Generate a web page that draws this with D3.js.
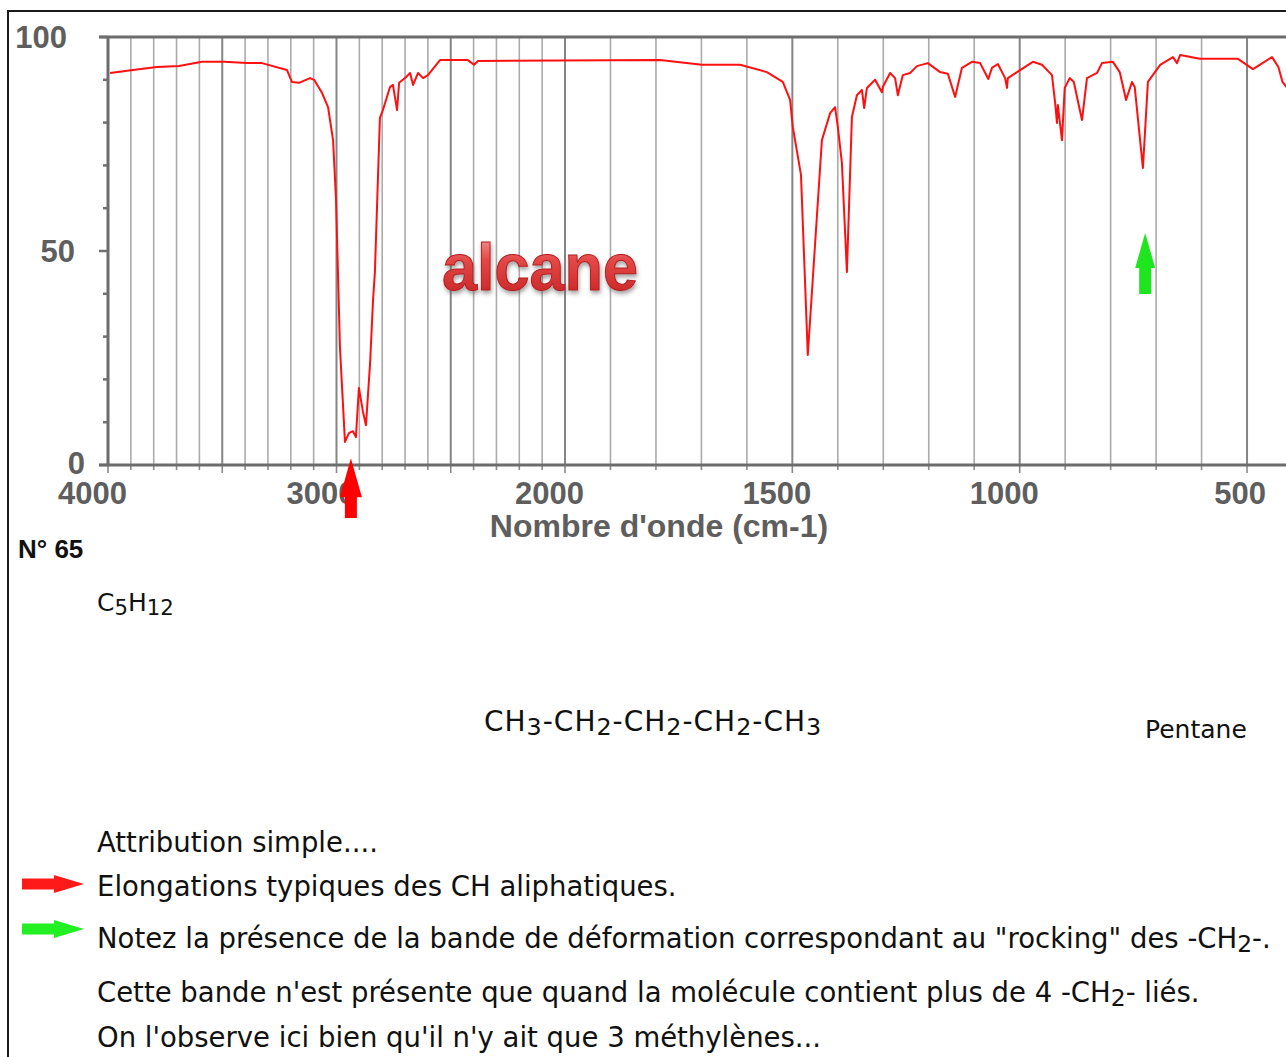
<!DOCTYPE html>
<html>
<head>
<meta charset="utf-8">
<script src="https://cdn.jsdelivr.net/npm/d3@7"></script>
<style>
  body { margin: 0; background: #fff; }
  svg { display: block; }
  .tick-label { font-family: "Liberation Sans", Arial, sans-serif; font-weight: bold; font-size: 31px; fill: #5e5e5e; }
  .note { font-family: "DejaVu Sans", sans-serif; font-size: 27.5px; fill: #111; }
  .formula { font-family: "DejaVu Sans", sans-serif; font-size: 25px; fill: #111; }
  .structure { font-family: "DejaVu Sans", sans-serif; font-size: 28px; letter-spacing: 1px; fill: #111; }
</style>
</head>
<body>
<div id="chart"></div>
<script>
// IR spectrum of pentane: wavenumber (cm-1) and transmittance (%)
const wavenumbers = [3991, 3891, 3786, 3689, 3589, 3492, 3392, 3326, 3217, 3195, 3164, 3116, 3098, 3063, 3037, 3015, 3002, 2985,
  2963, 2945, 2928, 2915, 2902, 2884, 2871, 2853, 2840, 2832, 2810, 2797, 2766, 2753, 2735, 2726, 2700, 2678, 2665, 2643, 2621,
  2600, 2547, 2425, 2398, 2381, 1791, 1699, 1615, 1556, 1521, 1505, 1499, 1481, 1466, 1435, 1417, 1406, 1400, 1391, 1380, 1369,
  1358, 1347, 1342, 1336, 1318, 1303, 1301, 1285, 1274, 1268, 1257, 1241, 1226, 1202, 1175, 1158, 1142, 1127, 1105, 1087, 1069,
  1061, 1048, 1032, 1028, 1026, 971, 951, 929, 922, 918, 916, 907, 901, 890, 881, 863, 852, 830, 819, 795, 780, 766, 753, 747,
  729, 718, 691, 663, 654, 647, 604, 520, 487, 445, 431, 422, 413, 405];
const transmittance = [91.6, 92.3, 93.0, 93.2, 94.2, 94.2, 93.9, 93.9, 92.3, 89.5, 89.3, 90.4, 90.0, 86.9, 83.6, 75.9, 61.9, 27.6,
  5.4, 7.5, 7.9, 6.5, 18.0, 12.4, 9.3, 23.8, 38.6, 45.0, 81.1, 82.9, 88.3, 88.8, 82.9, 89.3, 90.4, 91.6, 88.8, 91.6, 90.4,
  91.1, 94.6, 94.6, 93.5, 94.4, 94.6, 93.5, 93.5, 91.8, 89.5, 85.3, 79.0, 67.8, 25.7, 75.9, 82.2, 83.6, 79.0, 70.6, 45.1, 81.3,
  86.4, 87.6, 83.4, 88.1, 90.0, 87.1, 88.3, 91.6, 90.4, 86.4, 91.1, 91.6, 93.2, 93.9, 91.8, 91.4, 86.0, 92.8, 94.2, 93.9, 90.2,
  92.8, 93.7, 90.4, 88.1, 90.4, 94.2, 93.5, 91.1, 84.6, 79.9, 84.1, 75.9, 88.1, 90.4, 89.5, 80.6, 90.4, 91.6, 93.9, 94.2, 91.8,
  85.3, 89.5, 88.3, 69.4, 89.5, 93.5, 95.3, 93.9, 95.8, 94.9, 94.9, 92.5, 95.3, 93.0, 89.5, 88.3, 87.0];

const xTickLabels = [4000, 3000, 2000, 1500, 1000, 500];
const yTickLabels = [0, 50, 100];
const gridWavenumbers = d3.range(3900, 400, -100);
const xTitle = "Nombre d'onde (cm-1)";
const bandLabel = "alcane";

// annotation arrows: band position (cm-1) and transmittance of the tip
const redArrow = { wn: 2937, tip: 1.6 };
const greenArrow = { wn: 724, tip: 54.2 };

const spectrumNo = "N° 65";
const formula = "C_5H_12";
const structure = "CH_3-CH_2-CH_2-CH_2-CH_3";
const moleculeName = "Pentane";
const notes = [
  "Attribution simple....",
  "Elongations typiques des CH aliphatiques.",
  "Notez la présence de la bande de déformation correspondant au \"rocking\" des -CH_2-.",
  "Cette bande n'est présente que quand la molécule contient plus de 4 -CH_2- liés.",
  "On l'observe ici bien qu'il n'y ait que 3 méthylènes..."
];

const width = 1286, height = 1057;
const svg = d3.select("#chart").append("svg")
  .attr("width", width)
  .attr("height", height);

// outer frame
svg.append("rect")
  .attr("x", 8).attr("y", 11)
  .attr("width", width + 20).attr("height", height + 20)
  .attr("fill", "none")
  .attr("stroke", "#1a1a1a")
  .attr("stroke-width", 2);

const x = d3.scaleLinear().domain([4000, 2000, 400]).range([108, 565, 1292.5]);
const y = d3.scaleLinear().domain([0, 100]).range([465, 37]);

// vertical grid lines
svg.append("g")
  .selectAll("line")
  .data(gridWavenumbers)
  .enter().append("line")
  .attr("x1", d => x(d)).attr("x2", d => x(d))
  .attr("y1", y(100)).attr("y2", y(0))
  .attr("stroke", d => d % 500 === 0 ? "#858585" : "#ababab")
  .attr("stroke-width", d => d % 500 === 0 ? 2 : 1.6);

// x ticks under the axis
svg.append("g")
  .selectAll("line")
  .data(gridWavenumbers.concat([4000]))
  .enter().append("line")
  .attr("x1", d => x(d)).attr("x2", d => x(d))
  .attr("y1", y(0)).attr("y2", d => y(0) + (d % 500 === 0 ? 8 : 5))
  .attr("stroke", "#8a8a8a")
  .attr("stroke-width", 1.6);

// y ticks
svg.append("g")
  .selectAll("line")
  .data(d3.range(0, 101, 10))
  .enter().append("line")
  .attr("x1", d => d % 50 === 0 ? 99 : 103).attr("x2", 108)
  .attr("y1", d => y(d)).attr("y2", d => y(d))
  .attr("stroke", "#707070")
  .attr("stroke-width", 2.5);

// axis frame lines
const axisColor = "#6c6c6c";
svg.append("line").attr("x1", 99).attr("x2", width).attr("y1", y(100)).attr("y2", y(100))
  .attr("stroke", axisColor).attr("stroke-width", 3);
svg.append("line").attr("x1", 99).attr("x2", width).attr("y1", y(0)).attr("y2", y(0))
  .attr("stroke", axisColor).attr("stroke-width", 3);
svg.append("line").attr("x1", x(4000)).attr("x2", x(4000)).attr("y1", y(100)).attr("y2", y(0))
  .attr("stroke", axisColor).attr("stroke-width", 3);

// tick labels
svg.append("g")
  .selectAll("text")
  .data(xTickLabels)
  .enter().append("text")
  .attr("class", "tick-label")
  .attr("x", d => x(d) + 19)
  .attr("y", 504)
  .attr("text-anchor", "end")
  .text(d => d);

const yLabelRight = { 0: 85, 50: 75, 100: 67 };
svg.append("g")
  .selectAll("text")
  .data(yTickLabels)
  .enter().append("text")
  .attr("class", "tick-label")
  .attr("x", d => yLabelRight[d])
  .attr("y", d => y(d) + (d === 0 ? 9 : 11))
  .attr("text-anchor", "end")
  .text(d => d);

svg.append("text")
  .attr("class", "tick-label")
  .attr("x", 659)
  .attr("y", 537)
  .attr("text-anchor", "middle")
  .style("font-size", "32px")
  .text(xTitle);

// "alcane" label with bevel look
const defs = svg.append("defs");
const grad = defs.append("linearGradient")
  .attr("id", "alcaneGrad")
  .attr("x1", 0).attr("y1", 0).attr("x2", 0).attr("y2", 1);
grad.append("stop").attr("offset", "0%").attr("stop-color", "#f7aaaa");
grad.append("stop").attr("offset", "40%").attr("stop-color", "#e44848");
grad.append("stop").attr("offset", "100%").attr("stop-color", "#c41f1f");
const shadow = defs.append("filter").attr("id", "alcaneShadow")
  .attr("x", "-10%").attr("y", "-10%").attr("width", "130%").attr("height", "140%");
shadow.append("feDropShadow")
  .attr("dx", 1).attr("dy", 3).attr("stdDeviation", 2)
  .attr("flood-color", "#555").attr("flood-opacity", 0.55);

svg.append("text")
  .attr("x", 442)
  .attr("y", 290)
  .attr("textLength", 196)
  .attr("lengthAdjust", "spacingAndGlyphs")
  .attr("font-family", "Liberation Sans, Arial, sans-serif")
  .attr("font-weight", "bold")
  .attr("font-size", 66)
  .attr("fill", "url(#alcaneGrad)")
  .attr("stroke", "#b51c1c")
  .attr("stroke-width", 1)
  .attr("filter", "url(#alcaneShadow)")
  .text(bandLabel);

// spectrum
const spectrum = wavenumbers.map((d, i) => [d, transmittance[i]]);
const line = d3.line()
  .x(d => x(d[0]))
  .y(d => y(d[1]));

svg.append("path")
  .datum(spectrum)
  .attr("fill", "none")
  .attr("stroke", "#ff1010")
  .attr("stroke-width", 2)
  .attr("stroke-linejoin", "round")
  .attr("d", line);

// upward arrows in the plot
function upArrow(cx, tipY, headH, headW, shaftW, bottomY, color) {
  const p = d3.path();
  p.moveTo(cx, tipY);
  p.lineTo(cx + headW / 2, tipY + headH);
  p.lineTo(cx + shaftW / 2, tipY + headH);
  p.lineTo(cx + shaftW / 2, bottomY);
  p.lineTo(cx - shaftW / 2, bottomY);
  p.lineTo(cx - shaftW / 2, tipY + headH);
  p.lineTo(cx - headW / 2, tipY + headH);
  p.closePath();
  svg.append("path").attr("d", p.toString()).attr("fill", color);
}
upArrow(x(redArrow.wn), y(redArrow.tip), 39, 22, 12, 518, "#ff0000");
upArrow(x(greenArrow.wn), y(greenArrow.tip), 35, 20, 12, 294, "#1ee61e");

// right-pointing legend arrows
function rightArrow(x0, x1, cy, headL, headH, shaftH, color) {
  const p = d3.path();
  p.moveTo(x0, cy - shaftH / 2);
  p.lineTo(x1 - headL, cy - shaftH / 2);
  p.lineTo(x1 - headL, cy - headH / 2);
  p.lineTo(x1, cy);
  p.lineTo(x1 - headL, cy + headH / 2);
  p.lineTo(x1 - headL, cy + shaftH / 2);
  p.lineTo(x0, cy + shaftH / 2);
  p.closePath();
  svg.append("path").attr("d", p.toString()).attr("fill", color);
}
rightArrow(22, 84, 884, 30, 18, 11, "#ff1a1a");
rightArrow(22, 84, 929, 30, 18, 11, "#22f022");

// text with "_n" subscripts
function richText(parent, str, xPos, yPos, cls) {
  const t = parent.append("text").attr("class", cls).attr("x", xPos).attr("y", yPos);
  const parts = str.split(/(_\d+)/).filter(s => s.length);
  let shifted = false;
  parts.forEach(part => {
    if (part[0] === "_") {
      t.append("tspan").attr("dy", shifted ? 0 : 4).attr("font-size", "0.85em").text(part.slice(1));
      shifted = true;
    } else {
      t.append("tspan").attr("dy", shifted ? -4 : 0).text(part);
      shifted = false;
    }
  });
  return t;
}

svg.append("text")
  .attr("x", 18).attr("y", 558)
  .attr("font-family", "Liberation Sans, Arial, sans-serif")
  .attr("font-weight", "bold")
  .attr("font-size", 26)
  .attr("fill", "#111")
  .text(spectrumNo);

richText(svg, formula, 97, 611, "formula");
richText(svg, structure, 484, 731, "structure");
richText(svg, moleculeName, 1145, 738, "formula");

const noteBaselines = [852, 896, 948, 1002, 1047];
notes.forEach((n, i) => richText(svg, n, 97, noteBaselines[i], "note"));
</script>
</body>
</html>
